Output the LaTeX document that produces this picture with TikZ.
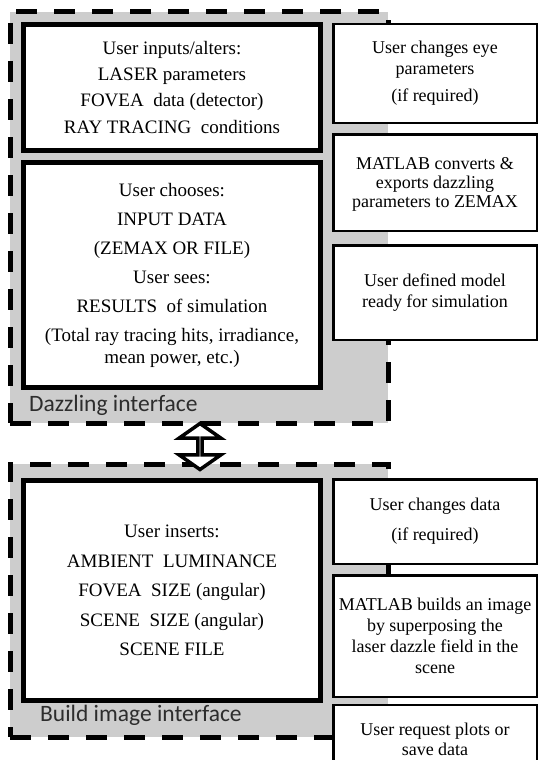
\documentclass[tikz,border=0pt]{standalone}
\usepackage{fontspec}
\setmainfont{Liberation Serif}
\newfontfamily\labelfont{Carlito}
\usetikzlibrary{shapes.arrows}
\definecolor{groupgray}{RGB}{205,205,205}
\definecolor{labelgray}{RGB}{45,45,45}
\begin{document}
\begin{tikzpicture}[x=1pt,y=-1pt,
  groupframe/.style={draw=black, fill=groupgray, line width=5pt, dash pattern=on 21pt off 17pt, inner sep=0pt},
  mainbox/.style={draw=black, fill=white, line width=5pt, inner sep=0pt, align=center, minimum width=297pt},
  sidebox/.style={draw=black, fill=white, line width=2.5pt, inner sep=0pt, align=center, minimum width=203.5pt, font=\fontsize{18}{21}\selectfont},
  grouplabel/.style={anchor=base west, inner sep=0pt, font=\labelfont\fontsize{23.5}{28}\selectfont, text=labelgray},
  linkarrow/.style={draw=black, fill=white, line width=3.5pt, double arrow, rotate=90, minimum height=46pt, minimum width=42pt, double arrow head extend=15pt, double arrow tip angle=110, inner sep=0pt}]
\useasboundingbox (0,0) rectangle (539,760);
\clip (0,0) rectangle (539,760);

% group frames
\node[groupframe, minimum width=378pt, minimum height=411pt] (dazzle) at (199,217.5) {};
\node[groupframe, minimum width=378pt, minimum height=273pt] (build) at (199,600.5) {};

% group labels
\node[grouplabel] (dazzlelabel) at (29,411) {Dazzling interface};
\node[grouplabel] (buildlabel) at (40,721) {Build image interface};

% main boxes
\node[mainbox, minimum height=126pt, font=\fontsize{19}{26}\selectfont] (inputs) at (172,87.5)
  {User inputs/alters:\\ LASER parameters\\ FOVEA\ \ data (detector)\\ RAY TRACING\ \ conditions};
\node[mainbox, minimum height=225pt, font=\fontsize{19}{29}\selectfont] (chooses) at (172,275)
  {User chooses:\\ INPUT DATA\\ (ZEMAX OR FILE)\\ User sees:\\ RESULTS\ \ of simulation\\ (Total ray tracing hits, irradiance,\\[-7pt] mean power, etc.)};
\node[mainbox, minimum height=220pt, font=\fontsize{19}{29.5}\selectfont] (inserts) at (172,590.5)
  {User inserts:\\ AMBIENT\ \ LUMINANCE\\ FOVEA\ \ SIZE (angular)\\ SCENE\ \ SIZE (angular)\\ SCENE FILE};

% side boxes, dazzling interface
\node[sidebox, minimum height=98.5pt] (eye) at (435,73.5)
  {User changes eye\\ parameters\\[6pt] (if required)};
\node[sidebox, minimum height=96.5pt, text depth=-4pt] (convert) at (435,182.5)
  {MATLAB\ converts \&\\[-2pt] exports dazzling\\[-2pt] parameters to ZEMAX};
\node[sidebox, minimum height=94.5pt] (model) at (435,292.5)
  {User defined model\\ ready for simulation};

% side boxes, build image interface
\node[sidebox, minimum height=84.5pt] (changes) at (435,521.5)
  {User changes data\\[9pt] (if required)};
\node[sidebox, minimum height=121.5pt] (builds) at (435,636)
  {MATLAB builds an image\\ by\ superposing the\\ laser dazzle field in the\\ scene};
\node[sidebox, minimum height=68pt] (plots) at (435,739)
  {User request plots or\\[-1pt] save data};

% link between the two interfaces
\node[linkarrow] (link) at (200,446.5) {};
\end{tikzpicture}
\end{document}
